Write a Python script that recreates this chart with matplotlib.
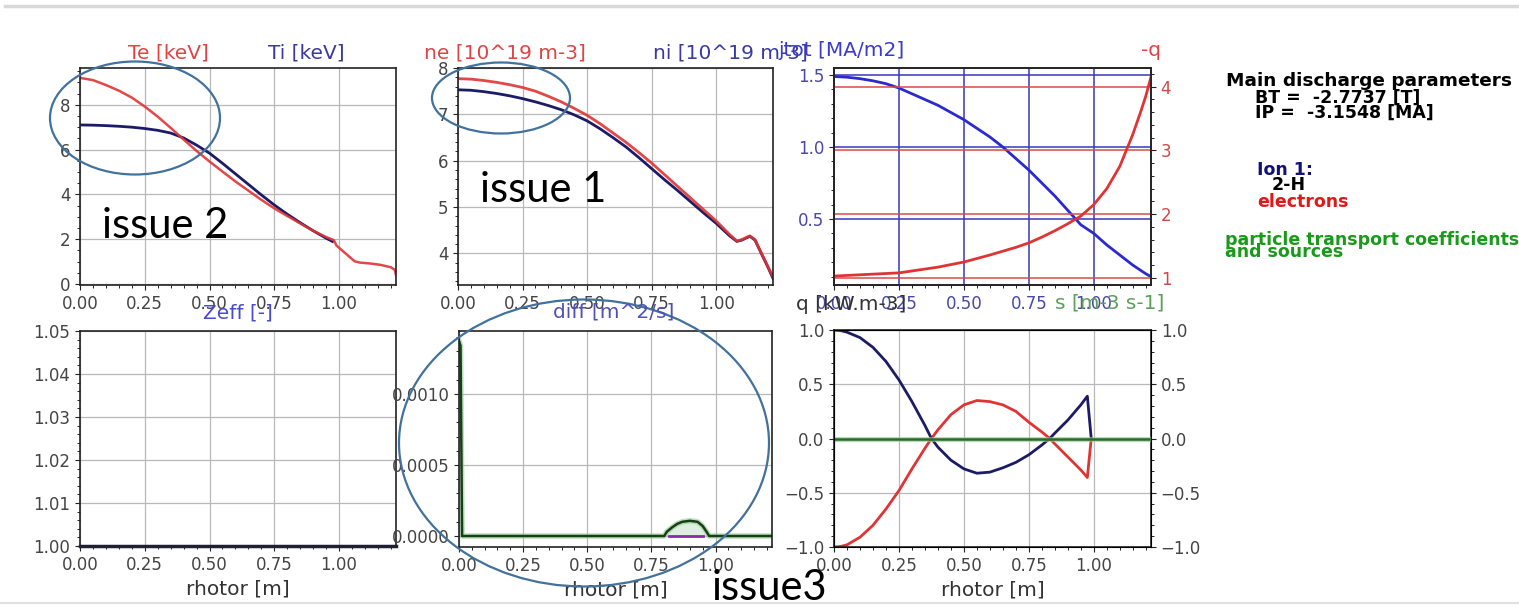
import matplotlib.pyplot as plt
from matplotlib.patches import Ellipse
from matplotlib.ticker import FormatStrFormatter

W, H = 1519, 606

# --- profile data ---
rho_te = [0.0, 0.05, 0.1, 0.15, 0.2, 0.25, 0.3, 0.35, 0.4, 0.45, 0.5, 0.55, 0.6,
          0.65, 0.7, 0.75, 0.8, 0.85, 0.9, 0.95, 0.98, 0.99, 1.0, 1.03, 1.06,
          1.08, 1.12, 1.16, 1.2, 1.215, 1.22]
te = [9.2, 9.1, 8.88, 8.63, 8.32, 7.92, 7.47, 6.97, 6.45, 5.94, 5.47, 5.02, 4.58,
      4.17, 3.76, 3.38, 3.04, 2.71, 2.38, 2.1, 1.96, 1.72, 1.62, 1.32, 1.02,
      0.96, 0.92, 0.86, 0.75, 0.64, 0.4]

rho_ti = [0.0, 0.05, 0.1, 0.15, 0.2, 0.25, 0.3, 0.35, 0.4, 0.45, 0.5, 0.55, 0.6,
          0.65, 0.7, 0.75, 0.8, 0.85, 0.9, 0.95, 0.975]
ti = [7.1, 7.09, 7.07, 7.04, 7.0, 6.94, 6.86, 6.74, 6.52, 6.2, 5.84, 5.39, 4.92,
      4.45, 3.98, 3.53, 3.12, 2.74, 2.38, 2.05, 1.9]

rho_n = [0.0, 0.05, 0.1, 0.15, 0.2, 0.25, 0.3, 0.35, 0.4, 0.45, 0.5, 0.55, 0.6,
         0.65, 0.7, 0.75, 0.8, 0.85, 0.9, 0.95, 1.0, 1.05, 1.08, 1.1, 1.13,
         1.15, 1.18, 1.2, 1.22]
ne = [7.77, 7.76, 7.73, 7.69, 7.64, 7.58, 7.5, 7.39, 7.27, 7.13, 6.98, 6.8, 6.6,
      6.4, 6.18, 5.95, 5.7, 5.45, 5.2, 4.95, 4.7, 4.42, 4.27, 4.3, 4.38,
      4.3, 3.95, 3.72, 3.5]
ni = [7.53, 7.52, 7.49, 7.45, 7.4, 7.34, 7.27, 7.19, 7.1, 6.99, 6.86, 6.69, 6.5,
      6.3, 6.07, 5.83, 5.59, 5.36, 5.12, 4.88, 4.65, 4.39, 4.26, 4.29, 4.37,
      4.29, 3.94, 3.71, 3.46]

rho_j = [0.0, 0.05, 0.1, 0.15, 0.2, 0.25, 0.3, 0.35, 0.4, 0.45, 0.5, 0.55, 0.6,
         0.65, 0.7, 0.75, 0.8, 0.85, 0.9, 0.95, 1.0, 1.05, 1.1, 1.15, 1.2, 1.22]
jtot = [1.49, 1.485, 1.475, 1.46, 1.44, 1.41, 1.37, 1.33, 1.29, 1.24, 1.19, 1.13,
        1.07, 1.0, 0.92, 0.84, 0.75, 0.66, 0.56, 0.46, 0.4, 0.32, 0.25, 0.18,
        0.12, 0.1]
rho_q = [0.0, 0.1, 0.2, 0.25, 0.3, 0.4, 0.5, 0.6, 0.7, 0.75, 0.8, 0.85, 0.9,
         0.95, 1.0, 1.05, 1.1, 1.15, 1.18, 1.2, 1.22]
q = [1.03, 1.05, 1.07, 1.08, 1.11, 1.17, 1.25, 1.36, 1.48, 1.55, 1.64, 1.74,
     1.85, 1.97, 2.15, 2.4, 2.75, 3.25, 3.6, 3.85, 4.15]

rho_zeff = [0.0, 1.22]
zeff = [1.0, 1.0]

rho_diff = [0.0, 0.006, 0.012, 0.8, 0.81, 0.83, 0.85, 0.87, 0.9, 0.93, 0.95,
            0.965, 0.975, 1.22]
diff = [0.001375, 0.00134, 0.0, 0.0, 0.00003, 0.00006, 0.000085, 0.0001,
        0.000107, 0.0001, 0.00007, 0.00003, 0.0, 0.0]
rho_diff_i = [0.82, 0.95]
diff_i = [0.0, 0.0]

rho_src = [0.0, 0.025, 0.05, 0.1, 0.15, 0.2, 0.25, 0.3, 0.35, 0.375, 0.4, 0.45,
           0.5, 0.55, 0.6, 0.65, 0.7, 0.75, 0.8, 0.83, 0.85, 0.9, 0.95, 0.975,
           0.99]
qi = [1.0, 0.995, 0.98, 0.93, 0.84, 0.71, 0.54, 0.34, 0.12, 0.0, -0.08, -0.2,
      -0.28, -0.32, -0.31, -0.27, -0.22, -0.15, -0.06, 0.0, 0.05, 0.17, 0.31,
      0.39, 0.0]
qe = [-1.0, -0.995, -0.98, -0.91, -0.8, -0.65, -0.48, -0.28, -0.09, 0.0, 0.08,
      0.22, 0.31, 0.35, 0.34, 0.31, 0.25, 0.15, 0.06, 0.0, -0.05, -0.17, -0.29,
      -0.36, 0.0]
rho_s = [0.0, 1.22]
s_part = [0.0, 0.0]

RED = '#e03434'
NAVY = '#1c1c66'
BLUE = '#2a2ad0'
GREEN = '#2c6a2c'
LGREEN = '#8fd08f'
GRID = '#b8b8b8'


def px_rect(left, top, right, bottom):
    return [left / W, 1 - bottom / H, (right - left) / W, (bottom - top) / H]


def style(ax, ylim, tick_color='#444444'):
    ax.set_xlim(0, 1.22)
    ax.set_ylim(*ylim)
    ax.set_xticks([0, 0.25, 0.5, 0.75, 1.0])
    ax.minorticks_on()
    ax.tick_params(labelsize=12, colors='#222222', labelcolor=tick_color)
    ax.tick_params(which='minor', length=2.2)
    for sp in ax.spines.values():
        sp.set_color('#222222')
        sp.set_linewidth(1.2)


fig = plt.figure(figsize=(W / 100, H / 100), dpi=100)

# Te / Ti
ax1 = fig.add_axes(px_rect(80, 68, 396, 285))
style(ax1, (-0.04, 9.64))
ax1.grid(True, color=GRID, lw=0.9)
ax1.plot(rho_ti, ti, color=NAVY, lw=2)
ax1.plot(rho_te, te, color=RED, lw=1.8, alpha=0.9)

# ne / ni
ax2 = fig.add_axes(px_rect(458, 68, 773, 285))
style(ax2, (3.32, 8.0))
ax2.set_yticks([4, 5, 6, 7, 8])
ax2.grid(True, color=GRID, lw=0.9)
ax2.plot(rho_n, ni, color=NAVY, lw=2)
ax2.plot(rho_n, ne, color=RED, lw=2, alpha=0.9)

# jtot / -q
ax3 = fig.add_axes(px_rect(834, 68, 1151, 285))
style(ax3, (0.042, 1.549), tick_color='#4848a8')
ax3.set_yticks([0.5, 1.0, 1.5])
ax3.grid(True, color='#3838b8', lw=1.1)
ax3.plot(rho_j, jtot, color=BLUE, lw=2, zorder=4)
ax3b = ax3.twinx()
ax3b.set_ylim(0.89, 4.29)
ax3b.set_yticks([1, 2, 3, 4])
ax3b.minorticks_on()
ax3b.tick_params(labelsize=12, colors='#222222', labelcolor='#d04848')
ax3b.tick_params(which='minor', length=2.2)
ax3b.grid(True, axis='y', color='#e04848', lw=1.1)
ax3b.plot(rho_q, q, color=RED, lw=2)
for sp in ax3b.spines.values():
    sp.set_color('#222222')
    sp.set_linewidth(1.2)

# Zeff
ax4 = fig.add_axes(px_rect(80, 331, 396, 546))
style(ax4, (1.0, 1.05))
ax4.set_yticks([1.0, 1.01, 1.02, 1.03, 1.04, 1.05])
ax4.yaxis.set_major_formatter(FormatStrFormatter('%.2f'))
ax4.grid(True, color=GRID, lw=0.9)
ax4.plot(rho_zeff, zeff, color=NAVY, lw=2.5, clip_on=False)
ax4.set_xlabel('rhotor [m]', fontsize=14.5, color='#333333')

# diffusion coefficients
ax5 = fig.add_axes(px_rect(459, 331, 772, 547))
style(ax5, (-0.0000775, 0.001444))
ax5.set_yticks([0.0, 0.0005, 0.0010])
ax5.yaxis.set_major_formatter(FormatStrFormatter('%.4f'))
ax5.grid(True, color=GRID, lw=0.9)
ax5.plot(rho_diff, diff, color=LGREEN, lw=4, alpha=0.6)
ax5.fill_between(rho_diff[3:13], diff[3:13], 0, color=LGREEN, alpha=0.3, lw=0)
ax5.plot(rho_diff, diff, color='#1a3d1a', lw=1.8)
ax5.plot(rho_diff_i, diff_i, color='#8a2ab0', lw=2)
ax5.set_xlabel('rhotor [m]', fontsize=14.5, color='#333333')

# heating / particle source
ax6 = fig.add_axes(px_rect(834, 330, 1151, 547))
style(ax6, (-1.0, 1.0))
ax6.set_yticks([-1.0, -0.5, 0.0, 0.5, 1.0])
ax6.grid(True, color=GRID, lw=0.9)
ax6.plot(rho_src, qe, color=RED, lw=2)
ax6.plot(rho_src, qi, color=NAVY, lw=2)
ax6.set_xlabel('rhotor [m]', fontsize=14.5, color='#333333')
ax6b = ax6.twinx()
ax6b.set_ylim(-1.0, 1.0)
ax6b.set_yticks([-1.0, -0.5, 0.0, 0.5, 1.0])
ax6b.minorticks_on()
ax6b.tick_params(labelsize=12, colors='#222222', labelcolor='#444444')
ax6b.tick_params(which='minor', length=2.2)
ax6b.plot(rho_s, s_part, color=LGREEN, lw=3.5, alpha=0.7)
ax6b.plot(rho_s, s_part, color=GREEN, lw=1.8)

# overlay in pixel coordinates: titles, side text, annotations
ov = fig.add_axes([0, 0, 1, 1], zorder=10)
ov.set_xlim(0, W)
ov.set_ylim(H, 0)
ov.axis('off')
ov.patch.set_alpha(0)

titles = [
    ('Te [keV]', 168, 53, '#e04444'),
    ('Ti [keV]', 306, 53, '#3a3aa0'),
    ('ne [10^19 m-3]', 505, 53, '#e04444'),
    ('ni [10^19 m-3]', 730, 53, '#3a3aa0'),
    ('jtot [MA/m2]', 842, 51, '#3a3ad0'),
    ('-q', 1151, 50, '#e04444'),
    ('Zeff [-]', 238, 313, '#4a4ad0'),
    ('diff [m^2/s]', 614, 312, '#5050b8'),
    ('q [kW.m-3]', 851, 305, '#333333'),
    ('s [m-3 s-1]', 1110, 303, '#5aa05a'),
]
for txt, x, y, c in titles:
    ov.text(x, y, txt, ha='center', va='center', fontsize=14.5, color=c)

side = [
    ('Main discharge parameters', 1226, 81, 'black', 13.3),
    ('BT =  -2.7737 [T]', 1255, 98, 'black', 12.5),
    ('IP =  -3.1548 [MA]', 1255, 113, 'black', 12.5),
    ('Ion 1:', 1257, 170, '#10107a', 12.5),
    ('2-H', 1272, 185, 'black', 12.5),
    ('electrons', 1257, 202, '#e01818', 12.5),
    ('particle transport coefficients', 1225, 240, '#1a9a1a', 12.5),
    ('and sources', 1225, 252, '#1a9a1a', 12.5),
]
for txt, x, y, c, fs in side:
    ov.text(x, y, txt, ha='left', va='center', fontsize=fs,
            fontweight='bold', color=c)

# screenshot frame lines
ov.plot([5, W], [6, 6], color='#d8d8d8', lw=2.5)
ov.plot([0, W], [603, 603], color='#e0e0e0', lw=1.5)

# annotations
EC = '#41719c'
for cx, cy, w, h in [(135, 118, 170, 113), (501, 98, 138, 71), (584, 443, 370, 287)]:
    ov.add_patch(Ellipse((cx, cy), w, h, fill=False, ec=EC, lw=1.6))
for txt, x, y in [('issue 2', 102, 238), ('issue 1', 480, 202), ('issue3', 712, 600)]:
    ov.text(x, y, txt, ha='left', va='baseline', fontsize=30,
            family=['Lato', 'DejaVu Sans'], color='black')

fig.savefig('out.png', dpi=100)
